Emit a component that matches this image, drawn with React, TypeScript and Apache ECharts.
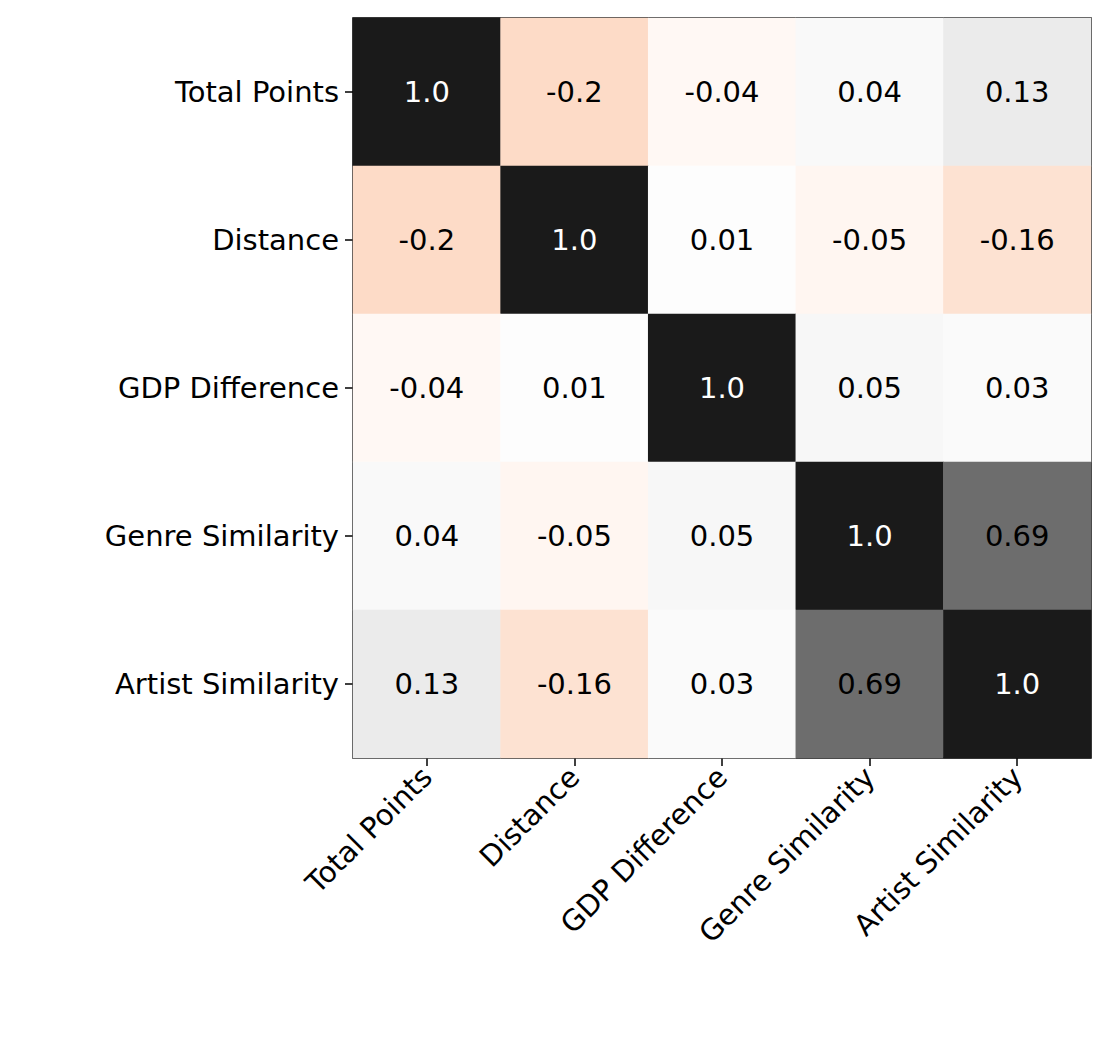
import React from 'react';
import * as echarts from 'echarts';

const labels = ['Total Points', 'Distance', 'GDP Difference', 'Genre Similarity', 'Artist Similarity'];
const matrix = [
  [1.0, -0.2, -0.04, 0.04, 0.13],
  [-0.2, 1.0, 0.01, -0.05, -0.16],
  [-0.04, 0.01, 1.0, 0.05, 0.03],
  [0.04, -0.05, 0.05, 1.0, 0.69],
  [0.13, -0.16, 0.03, 0.69, 1.0],
];
const rdgy = ['#67001f', '#b2182b', '#d6604d', '#f4a582', '#fddbc7', '#ffffff', '#e0e0e0', '#bababa', '#878787', '#4d4d4d', '#1a1a1a'];

function fmt(v: number) {
  return v === 1 ? '1.0' : String(v);
}

export default function App() {
  const ref = React.useRef<HTMLDivElement>(null);

  React.useEffect(() => {
    document.body.style.margin = '0';
    if (!ref.current) return;
    const chart = echarts.init(ref.current, undefined, { renderer: 'svg' });
    const data: [number, number, number][] = [];
    matrix.forEach((row, r) => row.forEach((v, c) => data.push([c, r, v])));
    const font = 'DejaVu Sans';
    chart.setOption({
      animation: false,
      textStyle: { fontFamily: font },
      grid: { left: 353, top: 18, width: 738, height: 740, show: true, borderColor: '#000', borderWidth: 1.5, backgroundColor: 'transparent' },
      xAxis: {
        type: 'category', data: labels,
        axisLine: { show: false },
        axisTick: { show: true, alignWithLabel: true, length: 8, lineStyle: { color: '#000', width: 1.5 } },
        axisLabel: { rotate: 45, fontSize: 29, color: '#000', margin: 14, interval: 0, fontFamily: font },
        splitLine: { show: false },
      },
      yAxis: {
        type: 'category', data: labels, inverse: true,
        axisLine: { show: false },
        axisTick: { show: true, alignWithLabel: true, length: 8, lineStyle: { color: '#000', width: 1.5 } },
        axisLabel: { fontSize: 29, color: '#000', margin: 14, interval: 0, fontFamily: font },
        splitLine: { show: false },
      },
      visualMap: { show: false, min: -1, max: 1, dimension: 2, inRange: { color: rdgy } },
      series: [{
        type: 'heatmap', data,
        label: {
          show: true, fontSize: 29, fontFamily: font,
          formatter: (p: any) => fmt(p.value[2]),
          color: '#000',
        },
        labelLayout: undefined,
      }],
    });
    // white labels on dark cells
    chart.setOption({
      series: [{
        data: data.map((d) => ({ value: d, label: { color: d[2] > 0.8 ? '#fff' : '#000' } })),
      }],
    });
    return () => chart.dispose();
  }, []);

  return <div ref={ref} style={{ width: 1112, height: 1047 }} />;
}
